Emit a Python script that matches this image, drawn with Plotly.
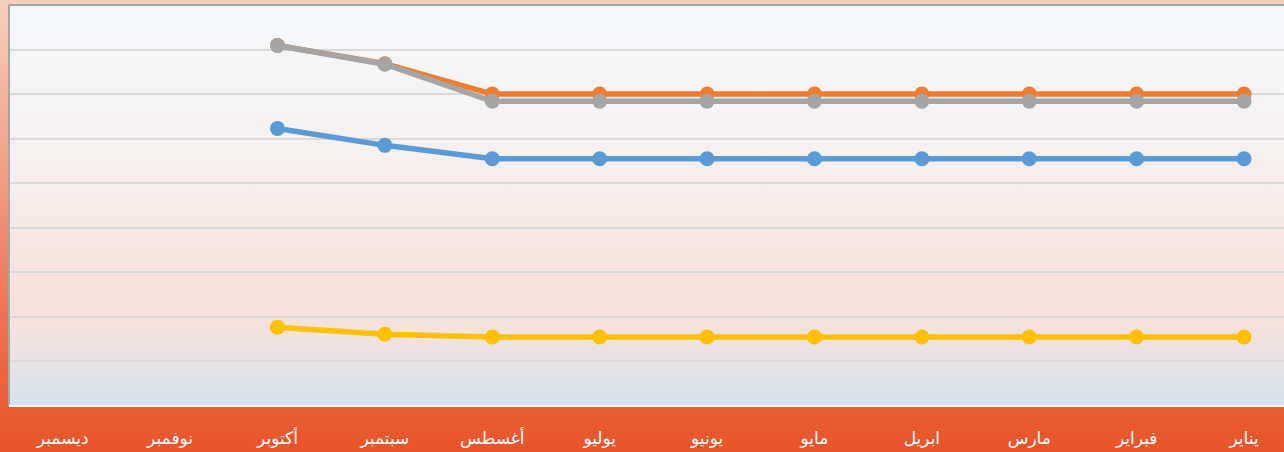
import base64
import plotly.graph_objects as go

# Month categories, January first (the axis runs right-to-left)
months = ["يناير", "فبراير", "مارس", "ابريل", "مايو", "يونيو",
          "يوليو", "أغسطس", "سبتمبر", "أكتوبر", "نوفمبر", "ديسمبر"]

# Series values per month (no data yet for November / December)
series_blue = [5.55, 5.55, 5.55, 5.55, 5.55, 5.55, 5.55, 5.55, 5.85, 6.23, None, None]
series_orange = [7.0, 7.0, 7.0, 7.0, 7.0, 7.0, 7.0, 7.0, 7.68, 8.09, None, None]
series_gray = [6.84, 6.84, 6.84, 6.84, 6.84, 6.84, 6.84, 6.84, 7.67, 8.09, None, None]
series_yellow = [1.55, 1.55, 1.55, 1.55, 1.55, 1.55, 1.55, 1.55, 1.61, 1.77, None, None]

W, H = 1284, 452
ML, MR, MT, MB = 9, 0, 5, 46
PW, PH = W - ML - MR, H - MT - MB


def gradient_uri(stops):
    """Vertical linear gradient as an SVG data URI."""
    stop_xml = "".join(
        f'<stop offset="{o}" stop-color="{c}"/>' for o, c in stops
    )
    svg = (
        '<svg xmlns="http://www.w3.org/2000/svg" width="100" height="100" '
        'viewBox="0 0 100 100" preserveAspectRatio="none">'
        '<defs><linearGradient id="g" x1="0" y1="0" x2="0" y2="1">'
        f"{stop_xml}</linearGradient></defs>"
        '<rect x="0" y="0" width="100" height="100" fill="url(#g)"/></svg>'
    )
    return "data:image/svg+xml;base64," + base64.b64encode(svg.encode()).decode()


page_bg = gradient_uri([
    (0.0, "#F7CEBF"), (0.33, "#F2A58C"), (0.66, "#EE7856"),
    (0.9, "#EA5E36"), (1.0, "#E7542A"),
])
plot_bg = gradient_uri([
    (0.0, "#F4F8FC"), (0.35, "#F6F1F0"), (0.7, "#F8E3DC"),
    (0.8, "#F6E2DC"), (0.9, "#E6E2E6"), (1.0, "#D4E1EE"),
])

fig = go.Figure()

styles = [
    ("Series1", series_blue, "#5B9BD5"),
    ("Series2", series_orange, "#ED7D31"),
    ("Series3", series_gray, "#A5A5A5"),
    ("Series4", series_yellow, "#FFC000"),
]
for name, vals, color in styles:
    fig.add_trace(go.Scatter(
        x=months, y=vals, name=name, mode="lines+markers",
        line=dict(color=color, width=5.5),
        marker=dict(color=color, size=15, line=dict(width=0)),
        connectgaps=False,
    ))

fig.update_layout(
    width=W, height=H,
    margin=dict(l=ML, r=MR, t=MT, b=MB, autoexpand=False),
    paper_bgcolor="rgba(0,0,0,0)",
    plot_bgcolor="rgba(0,0,0,0)",
    showlegend=False,
    images=[
        dict(source=page_bg, xref="paper", yref="paper",
             x=-ML / PW, y=1 + MT / PH, sizex=W / PW, sizey=H / PH,
             xanchor="left", yanchor="top", sizing="stretch", layer="below"),
        dict(source=plot_bg, xref="paper", yref="paper",
             x=0, y=1, sizex=1, sizey=1,
             xanchor="left", yanchor="top", sizing="stretch", layer="below"),
    ],
    shapes=[
        dict(type="line", xref="paper", yref="paper", x0=0, x1=1, y0=1, y1=1,
             line=dict(color="#A2A6AA", width=2)),
        dict(type="line", xref="paper", yref="paper", x0=0, x1=0, y0=0, y1=1,
             line=dict(color="#A2A6AA", width=2)),
        dict(type="line", xref="paper", yref="paper", x0=0, x1=1, y0=0, y1=0,
             line=dict(color="#FFFFFF", width=2)),
    ],
    xaxis=dict(
        type="category", categoryorder="array", categoryarray=months,
        range=[11.5, -0.372], showgrid=False, zeroline=False, showline=False,
        ticks="outside", ticklen=17, tickcolor="rgba(0,0,0,0)",
        tickfont=dict(family="Arial, DejaVu Sans, sans-serif", size=17, color="#FFFFFF"),
        fixedrange=True,
    ),
    yaxis=dict(
        range=[0, 9], dtick=1, showgrid=True, gridcolor="#D9D9D9", gridwidth=2,
        zeroline=False, showline=False, showticklabels=False, fixedrange=True,
    ),
)

fig.write_html("out.html", config={"displayModeBar": False})
